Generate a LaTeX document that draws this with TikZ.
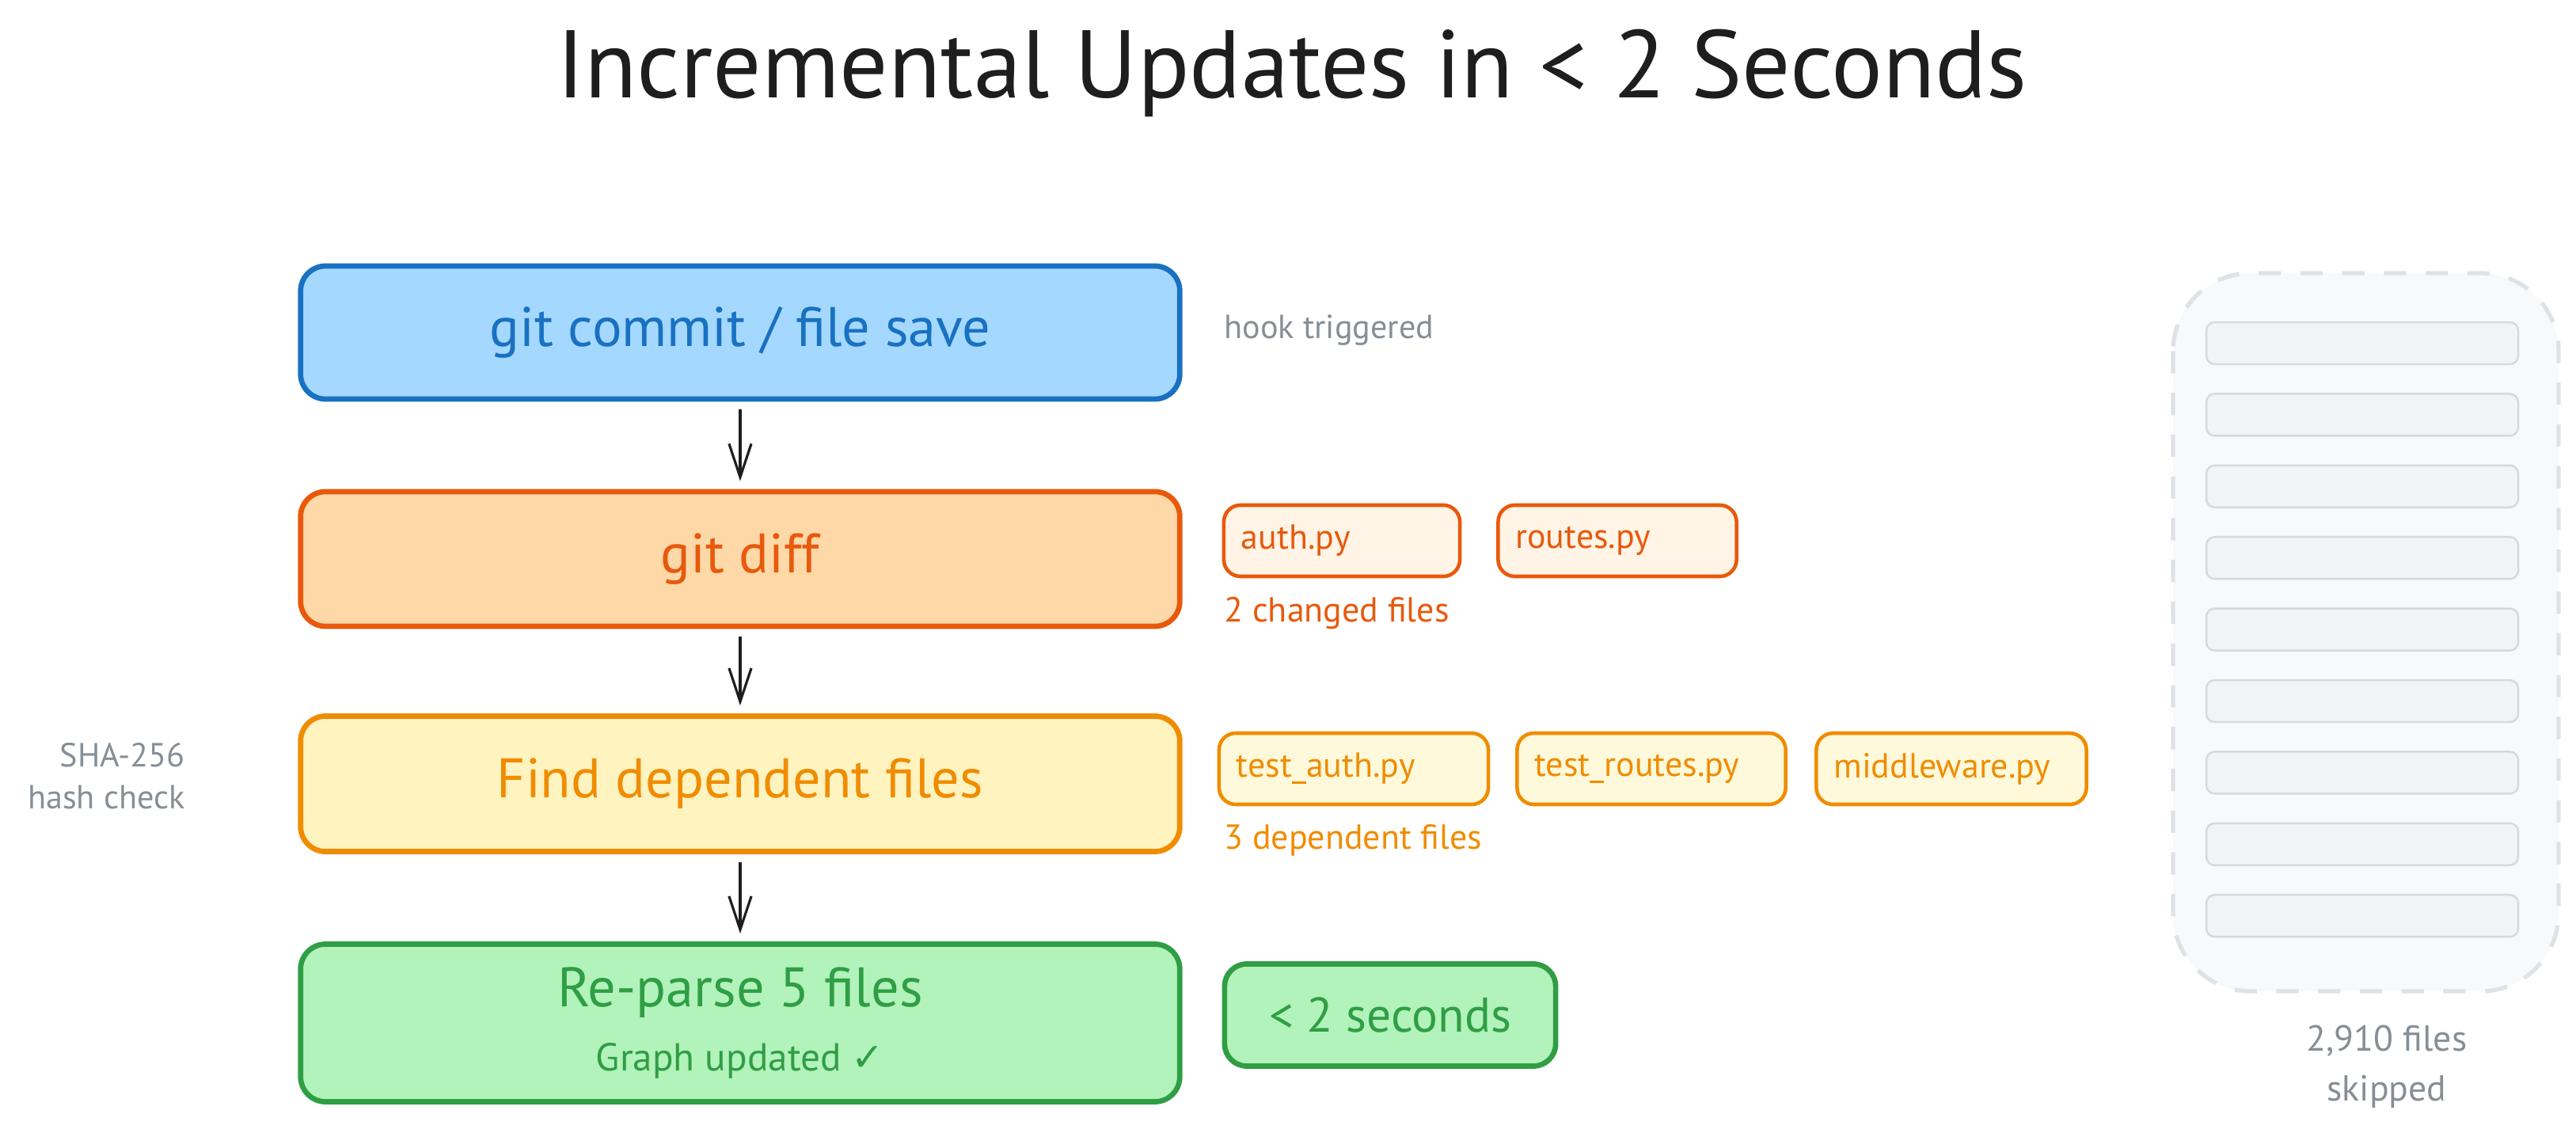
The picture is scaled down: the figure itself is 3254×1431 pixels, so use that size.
\documentclass[tikz,border=0pt]{standalone}
\usepackage{fontspec}
\setmainfont{PT Sans}
\newfontfamily\symfont{DejaVu Sans}
\usetikzlibrary{arrows.meta}

\definecolor{ink}{HTML}{1E1E1E}
\definecolor{notegray}{HTML}{868E96}
\definecolor{blueline}{HTML}{1971C2}
\definecolor{bluefill}{HTML}{A5D8FF}
\definecolor{redline}{HTML}{E8590C}
\definecolor{redfill}{HTML}{FFD8A8}
\definecolor{redlight}{HTML}{FFF4E6}
\definecolor{orline}{HTML}{F08C00}
\definecolor{orfill}{HTML}{FFF3BF}
\definecolor{orlight}{HTML}{FFF9DB}
\definecolor{grline}{HTML}{2F9E44}
\definecolor{grfill}{HTML}{B2F2BB}
\definecolor{panelfill}{HTML}{F8F9FA}
\definecolor{panelline}{HTML}{DEE2E6}
\definecolor{barfill}{HTML}{F1F3F5}
\definecolor{barline}{HTML}{D5D9DD}

\tikzset{
  stage/.style={draw, line width=1.9pt, rounded corners=9pt, minimum width=11.1cm,
    font=\fontsize{20}{24}\selectfont},
  filebox/.style={draw, line width=1.3pt, rounded corners=6pt, minimum height=0.9cm,
    inner xsep=0.22cm, text width=#1, align=left, font=\fontsize{12.5}{14}\selectfont},
  note/.style={font=\fontsize{12}{15}\selectfont, text=notegray},
  flow/.style={-{Straight Barb[length=12pt,width=8pt]}, line width=0.9pt, draw=ink,
    shorten <=0.1cm, shorten >=0.1cm},
}

\begin{document}
\begin{tikzpicture}[x=0.01cm, y=-0.01cm]
  \useasboundingbox (0,0) rectangle (3254,1431);

  \node[anchor=base, text=ink, font=\fontsize{34.5}{40}\selectfont] (title) at (1632,124)
    {Incremental Updates in < 2 Seconds};

  % pipeline
  \node[stage, draw=blueline, fill=bluefill, text=blueline, minimum height=1.68cm] (commit) at (935,420)
    {git commit / file save};
  \node[stage, draw=redline, fill=redfill, text=redline, minimum height=1.70cm] (diff) at (935,706)
    {git diff};
  \node[stage, draw=orline, fill=orfill, text=orline, minimum height=1.71cm] (deps) at (935,990)
    {Find dependent files};
  \node[stage, draw=grline, fill=grfill, text=grline, minimum height=1.99cm, align=center] (parse) at (935,1292)
    {Re-parse 5 files\\[-1pt]{\fontsize{14}{16}\selectfont Graph updated {\symfont ✓}}};

  \draw[flow] (commit) -- (diff);
  \draw[flow] (diff) -- (deps);
  \draw[flow] (deps) -- (parse);

  % side notes
  \node[note, anchor=west] (hook) at (1534,417) {hook triggered};
  \node[note, anchor=east, align=right] (sha) at (246,980) {SHA-256\\hash check};

  \node[filebox=2.54cm, draw=redline, fill=redlight, text=redline] (auth) at (1695,683) {auth.py};
  \node[filebox=2.57cm, draw=redline, fill=redlight, text=redline] (routes) at (2043,683) {routes.py};
  \node[note, anchor=west, text=redline, font=\fontsize{12.5}{15}\selectfont] (changed) at (1534,775) {2 changed files};

  \node[filebox=2.96cm, draw=orline, fill=orlight, text=orline] (tauth) at (1710,971) {test\_auth.py};
  \node[filebox=2.95cm, draw=orline, fill=orlight, text=orline] (troutes) at (2086,971) {test\_routes.py};
  \node[filebox=2.97cm, draw=orline, fill=orlight, text=orline] (mware) at (2465,971) {middleware.py};
  \node[note, anchor=west, text=orline, font=\fontsize{12.5}{15}\selectfont] (dependent) at (1534,1061) {3 dependent files};

  \node[draw=grline, fill=grfill, text=grline, line width=1.9pt, rounded corners=8pt,
    minimum width=4.18cm, minimum height=1.29cm, font=\fontsize{17.5}{20}\selectfont] (secs) at (1756,1282)
    {< 2 seconds};

  % skipped files
  \draw[draw=panelline, fill=panelfill, line width=1.5pt, dash pattern=on 8pt off 7pt, rounded corners=28pt]
    (2745,345) rectangle (3232,1252);
  \foreach \i in {0,...,8}
    \draw[draw=barline, fill=barfill, line width=0.7pt, rounded corners=3pt]
      (2787,{407+90.4*\i}) rectangle ++(394,53);
  \node[note, align=center, font=\fontsize{13}{18}\selectfont] (skipped) at (3015,1347) {2,910 files\\skipped};
\end{tikzpicture}
\end{document}
